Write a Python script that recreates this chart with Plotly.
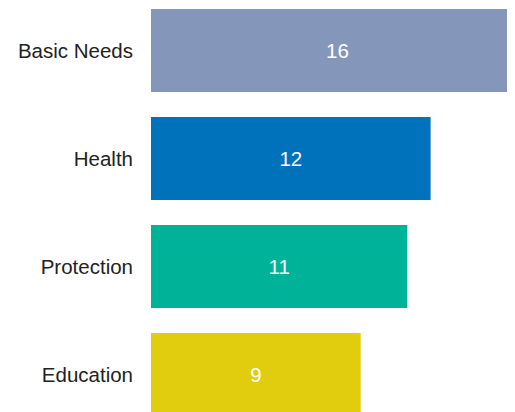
import plotly.graph_objects as go

categories = ["Basic Needs", "Health", "Protection", "Education"]
values = [16, 12, 11, 9]
colors = ["#8497BA", "#0072BC", "#00B398", "#E1CC0D"]

fig = go.Figure(go.Bar(
    x=values, y=categories, orientation="h",
    marker=dict(color=colors, line=dict(width=0)),
    text=[str(v) for v in values], textposition="inside",
    insidetextanchor="middle",
    textfont=dict(color="white", size=20.5, family="Liberation Sans, Arial, sans-serif"),
    width=0.77,
))

# the page body has an 8px margin, so the figure is drawn at (8, 8)
px_per_unit = 23.3
plot_w = 515 - 151
fig.update_layout(
    width=507, height=404,
    margin=dict(l=143, r=0, t=0, b=0),
    plot_bgcolor="white", paper_bgcolor="white",
    showlegend=False,
    font=dict(family="Liberation Sans, Arial, sans-serif", size=20.5, color="#222222"),
)
fig.update_xaxes(range=[0, plot_w / px_per_unit], visible=False, showgrid=False, zeroline=False)
fig.update_yaxes(range=[3.3472, -0.3935], showgrid=False, zeroline=False, showline=False,
                 ticks="", ticklabelstandoff=17, tickfont=dict(size=20.5, color="#222222"))

fig.write_html("out.html")
